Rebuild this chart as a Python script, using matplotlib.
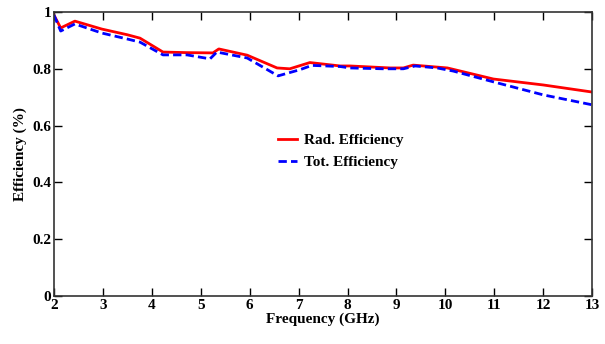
import matplotlib
matplotlib.use("Agg")
import matplotlib.pyplot as plt

plt.rcParams["font.family"] = ["Liberation Serif", "DejaVu Serif"]

rad_freq = [2.0, 2.14, 2.43, 2.98, 3.5, 3.76, 4.23, 4.72, 5.25, 5.37, 5.95, 6.56, 6.82,
            7.23, 7.85, 8.05, 8.87, 9.14, 9.34, 10.04, 10.98, 12.0, 13.0]
rad_eff = [0.99, 0.944, 0.968, 0.94, 0.92, 0.908, 0.859, 0.857, 0.856, 0.870, 0.848, 0.803, 0.80,
           0.822, 0.81, 0.81, 0.803, 0.803, 0.813, 0.803, 0.764, 0.743, 0.718]

tot_freq = [2.0, 2.14, 2.43, 2.98, 3.5, 3.76, 4.23, 4.72, 5.19, 5.33, 5.95, 6.58, 7.03,
            7.27, 7.85, 8.05, 8.73, 9.14, 9.38, 9.83, 10.16, 10.98, 12.0, 13.0]
tot_eff = [0.99, 0.933, 0.958, 0.926, 0.905, 0.894, 0.849, 0.849, 0.835, 0.859, 0.838, 0.775, 0.797,
           0.812, 0.808, 0.803, 0.80, 0.80, 0.81, 0.803, 0.792, 0.754, 0.708, 0.673]

x_ticks = list(range(2, 14))
y_ticks = [0, 0.2, 0.4, 0.6, 0.8, 1]
y_tick_labels = ["0", "0.2", "0.4", "0.6", "0.8", "1"]

fig = plt.figure(figsize=(6.05, 3.44), dpi=100)
ax = fig.add_axes([0.089, 0.14, 0.89, 0.825])

ax.plot(rad_freq, rad_eff, color="#ff0000", lw=2, label="Rad. Efficiency")
ax.plot(tot_freq, tot_eff, color="#0000ff", lw=2, ls=(0, (3, 1.5)), label="Tot. Efficiency")

ax.set_xlim(2, 13)
ax.set_ylim(0, 1)
ax.set_xticks(x_ticks)
ax.set_yticks(y_ticks)
ax.set_yticklabels(y_tick_labels)
for side in ax.spines.values():
    side.set_linewidth(1.2)
    side.set_color("#333333")
ax.tick_params(direction="in", top=True, right=True, length=6, width=1, labelsize=11, pad=2)
for lbl in ax.get_xticklabels() + ax.get_yticklabels():
    lbl.set_fontweight("bold")

ax.set_xlabel("Frequency (GHz)", fontsize=11, fontweight="bold", labelpad=1)
ax.set_ylabel("Efficiency (%)", fontsize=11, fontweight="bold", labelpad=4)

ax.legend(loc="upper left", bbox_to_anchor=(0.39, 0.62), frameon=False,
          prop={"size": 11, "weight": "bold"}, handlelength=1.3, handletextpad=0.4,
          labelspacing=0.55)

fig.savefig("out.png", dpi=100)
